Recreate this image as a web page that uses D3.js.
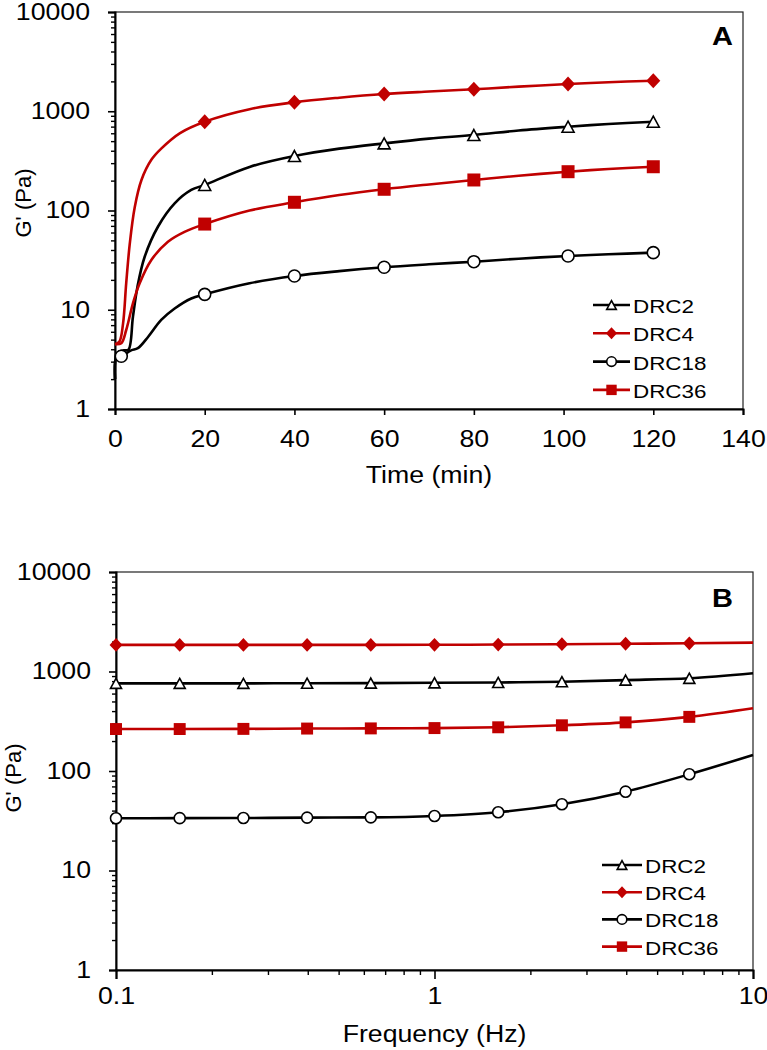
<!DOCTYPE html>
<html><head><meta charset="utf-8">
<script src="https://cdn.jsdelivr.net/npm/d3@7"></script>
<style>
body{margin:0;background:#fff}
svg{display:block}
text{font-family:"Liberation Sans",Arial,sans-serif;fill:#000}
</style>
</head><body>
<svg id="c" width="767" height="1050"></svg>
<script>
// ---------------- DATA ----------------
const seriesNames = ["DRC2", "DRC4", "DRC18", "DRC36"];
const seriesColors = ["#000000", "#C00000", "#000000", "#C00000"];
const seriesMarkers = ["triangle", "diamond", "circle", "square"];

// Panel A: G' (Pa) vs time (min)
const timeDRC2 = [0, 0.3, 1, 2, 3, 4, 5, 6.6, 9.6, 13.3, 17, 20, 30, 40, 50, 60, 70, 80, 90, 101, 110, 120];
const gA_DRC2  = [2.0, 3.5, 3.8, 3.9, 3.95, 8.5, 17, 34, 69, 118, 161, 181, 275, 354, 420, 475, 530, 576, 640, 699, 745, 785];
const timeDRC4 = [0, 1, 1.8, 2.5, 3.3, 4.4, 5.9, 8.1, 10.3, 14.5, 20, 30, 40, 50, 60, 70, 80, 90, 101, 110, 120];
const gA_DRC4  = [4.5, 4.8, 7.3, 18.5, 46.6, 108, 203, 324, 420, 603, 785, 1050, 1231, 1370, 1492, 1580, 1664, 1770, 1882, 1960, 2032];
const timeDRC18 = [0, 0.3, 1.4, 3.6, 5.1, 7.4, 10.3, 13.3, 17, 20, 30, 40, 50, 60, 70, 80, 90, 101, 110, 120];
const gA_DRC18  = [2.0, 3.3, 3.4, 3.9, 4.1, 5.35, 7.9, 10.3, 13, 14.3, 18.5, 21.9, 24.5, 26.8, 28.7, 30.5, 32.7, 34.8, 36.2, 37.6];
const timeDRC36 = [0, 1.4, 2.5, 4, 5.5, 8.1, 11.8, 15.5, 20, 30, 40, 50, 60, 70, 80, 90, 101, 110, 120];
const gA_DRC36  = [4.5, 4.6, 6.25, 11.6, 18.5, 31.7, 48.5, 61, 73, 100, 121, 143, 163.6, 183, 203, 224, 246, 262, 276];
const markerTimesA = [20, 40, 60, 80, 101, 120];
const markerTimesA_DRC18 = [1.4, 20, 40, 60, 80, 101, 120];

// Panel B: G' (Pa) vs frequency (Hz)
const freqB = [0.1, 0.1585, 0.2512, 0.3981, 0.631, 1, 1.585, 2.512, 3.981, 6.31, 10];
const markerFreqB = [0.1, 0.1585, 0.2512, 0.3981, 0.631, 1, 1.585, 2.512, 3.981, 6.31];
const gB_DRC2  = [760, 760, 760, 762, 765, 770, 776, 790, 820, 855, 960];
const gB_DRC4  = [1850, 1850, 1850, 1850, 1850, 1855, 1865, 1880, 1900, 1920, 1950];
const gB_DRC18 = [33.5, 33.6, 33.7, 34, 34.2, 35.3, 38.5, 46.3, 62, 92.7, 145];
const gB_DRC36 = [264, 264, 265, 267, 268, 270, 275, 288, 308, 350, 427];

// Ticks
const yTicks = [1, 10, 100, 1000, 10000];
const yTickLabels = ["1", "10", "100", "1000", "10000"];
const xTicksA = [0, 20, 40, 60, 80, 100, 120, 140];
const xTicksB = [0.1, 1, 10];
const xTickLabelsB = ["0.1", "1", "10"];

// ---------------- DRAWING ----------------
const svg = d3.select("#c");
const SX = 1.16;   // horizontal text stretch of the original figure
const SXL = 1.18;

function stretch(sel, sx) {
  sel.each(function () {
    const t = d3.select(this);
    const x = +t.attr("x") || 0;
    t.attr("x", x / sx).attr("transform", `scale(${sx},1)`);
  });
}
function addText(g, x, y, str, opts) {
  const gg = g.append("g").attr("transform", `translate(${x},${y})`);
  return gg.append("text").attr("x", 0).attr("y", 0).text(str)
    .attr("font-size", opts.size).attr("text-anchor", opts.anchor || "start")
    .attr("font-weight", opts.weight || "normal")
    .attr("transform", `scale(${opts.sx || 1},1)`);
}
function markerPath(type, s) {
  if (type === "diamond") {
    const w = 7 * s, h = 7.5 * s;
    return `M0,${-h}L${w},0L0,${h}L${-w},0Z`;
  }
  if (type === "square") {
    const a = 6.5 * s;
    return `M${-a},${-a}H${a}V${a}H${-a}Z`;
  }
  if (type === "triangle") {
    const w = 6 * s, h = 5.5 * s;
    return `M0,${-h}L${w},${h}L${-w},${h}Z`;
  }
  const r = 6 * s;
  return `M${r},0A${r},${r} 0 1,1 ${-r},0A${r},${r} 0 1,1 ${r},0Z`;
}
function drawMarker(g, type, color, x, y, s) {
  const filled = type === "diamond" || type === "square";
  g.append("path").attr("d", markerPath(type, s))
    .attr("transform", `translate(${x},${y})`)
    .attr("fill", filled ? color : "#fff")
    .attr("stroke", color)
    .attr("stroke-width", filled ? 0 : 1.6);
}
function minorLogTicks(lo, hi) {
  const out = [];
  for (let d = lo; d < hi; d *= 10) for (let k = 2; k <= 9; k++) out.push(+(k * d).toPrecision(3));
  return out;
}

function drawPanel(cfg) {
  const g = svg.append("g");
  const x = cfg.xScale, y = cfg.yScale;
  const [x0, x1] = x.range(), [y0, y1] = y.range();

  g.append("rect").attr("x", x0).attr("y", y1).attr("width", x1 - x0).attr("height", y0 - y1)
    .attr("fill", "none").attr("stroke", "#222").attr("stroke-width", 1.2);

  g.append("g").attr("transform", `translate(${x0},0)`)
    .call(d3.axisLeft(y).tickValues(minorLogTicks(1, 10000)).tickSize(4).tickFormat(""))
    .call(a => a.select(".domain").remove())
    .call(a => a.selectAll("line").attr("stroke-width", 1.4));
  const ya = g.append("g").attr("transform", `translate(${x0},0)`)
    .call(d3.axisLeft(y).tickValues(yTicks).tickSize(7).tickPadding(18)
      .tickFormat((d, i) => yTickLabels[i]));
  ya.select(".domain").attr("stroke-width", 2);
  ya.selectAll("line").attr("stroke-width", 1.6);
  ya.selectAll("text").attr("font-size", 23).attr("font-family", '"Liberation Sans",Arial,sans-serif').attr("fill", "#000");
  stretch(ya.selectAll("text"), SX);

  if (cfg.xMinor) {
    g.append("g").attr("transform", `translate(0,${y0})`)
      .call(d3.axisBottom(x).tickValues(cfg.xMinor).tickSize(5).tickFormat(""))
      .call(a => a.select(".domain").remove())
      .call(a => a.selectAll("line").attr("stroke-width", 1.4));
  }
  const xa = g.append("g").attr("transform", `translate(0,${y0})`)
    .call(d3.axisBottom(x).tickValues(cfg.xTicks).tickSize(cfg.xTickSize).tickPadding(cfg.xPad)
      .tickFormat(cfg.xFormat));
  xa.select(".domain").attr("stroke-width", 2);
  xa.selectAll("line").attr("stroke-width", 1.6);
  xa.selectAll("text").attr("font-size", 23).attr("font-family", '"Liberation Sans",Arial,sans-serif').attr("fill", "#000");
  stretch(xa.selectAll("text"), SX);

  const line = d3.line().x(d => x(d[0])).y(d => y(d[1])).curve(cfg.curve);
  const plot = g.append("g");
  cfg.series.forEach((s, i) => {
    const pts = s.xs.map((v, j) => [v, s.ys[j]]);
    plot.append("path").datum(pts).attr("d", line)
      .attr("fill", "none").attr("stroke", seriesColors[i]).attr("stroke-width", 2.6)
      .attr("stroke-linejoin", "round");
  });
  cfg.series.forEach((s, i) => {
    s.xs.forEach((v, j) => {
      if (s.marks.includes(v)) drawMarker(plot, seriesMarkers[i], seriesColors[i], x(v), y(s.ys[j]), cfg.mScale);
    });
  });

  addText(g, (x0 + x1) / 2, cfg.xTitleY, cfg.xTitle, { size: 23, anchor: "middle", sx: SX });
  g.append("text").attr("transform", `translate(${cfg.yTitleX},${cfg.yTitleCY}) rotate(-90)`)
    .attr("text-anchor", "middle").attr("font-size", 22).text("G' (Pa)");

  addText(g, 733, cfg.letterY, cfg.letter, { size: 25, anchor: "end", weight: "bold", sx: SX });

  const lg = g.append("g");
  seriesNames.forEach((n, i) => {
    const ly = cfg.legY + i * cfg.legStep;
    lg.append("line").attr("x1", cfg.legX0).attr("x2", cfg.legX1).attr("y1", ly).attr("y2", ly)
      .attr("stroke", seriesColors[i]).attr("stroke-width", 2.6);
    drawMarker(lg, seriesMarkers[i], seriesColors[i], (cfg.legX0 + cfg.legX1) / 2, ly, 0.8);
    addText(lg, cfg.legX1 + 3, ly + 8, n, { size: 19, sx: SXL });
  });
}

drawPanel({
  xScale: d3.scaleLinear().domain([0, 140]).range([115, 743]),
  yScale: d3.scaleLog().domain([1, 10000]).range([409, 12]),
  xTicks: xTicksA, xTickSize: 6, xPad: 16, xFormat: d => String(d),
  xTitle: "Time (min)", xTitleY: 483,
  yTitleX: 31, yTitleCY: 203,
  letter: "A", letterY: 45,
  mScale: 1,
  curve: d3.curveCatmullRom.alpha(0.5),
  series: [
    { xs: timeDRC2, ys: gA_DRC2, marks: markerTimesA },
    { xs: timeDRC4, ys: gA_DRC4, marks: markerTimesA },
    { xs: timeDRC18, ys: gA_DRC18, marks: markerTimesA_DRC18 },
    { xs: timeDRC36, ys: gA_DRC36, marks: markerTimesA }
  ],
  legX0: 593, legX1: 630, legY: 305, legStep: 28.3
});

drawPanel({
  xScale: d3.scaleLog().domain([0.1, 10]).range([116, 753]),
  yScale: d3.scaleLog().domain([1, 10000]).range([970, 572]),
  xTicks: xTicksB, xTickSize: 9, xPad: 9, xFormat: (d, i) => xTickLabelsB[i],
  xMinor: minorLogTicks(0.1, 10),
  xTitle: "Frequency (Hz)", xTitleY: 1042,
  yTitleX: 21, yTitleCY: 778,
  letter: "B", letterY: 607,
  mScale: 0.92,
  curve: d3.curveMonotoneX,
  series: [
    { xs: freqB, ys: gB_DRC2, marks: markerFreqB },
    { xs: freqB, ys: gB_DRC4, marks: markerFreqB },
    { xs: freqB, ys: gB_DRC18, marks: markerFreqB },
    { xs: freqB, ys: gB_DRC36, marks: markerFreqB }
  ],
  legX0: 602, legX1: 642, legY: 865, legStep: 27.2
});
</script>
</body></html>
